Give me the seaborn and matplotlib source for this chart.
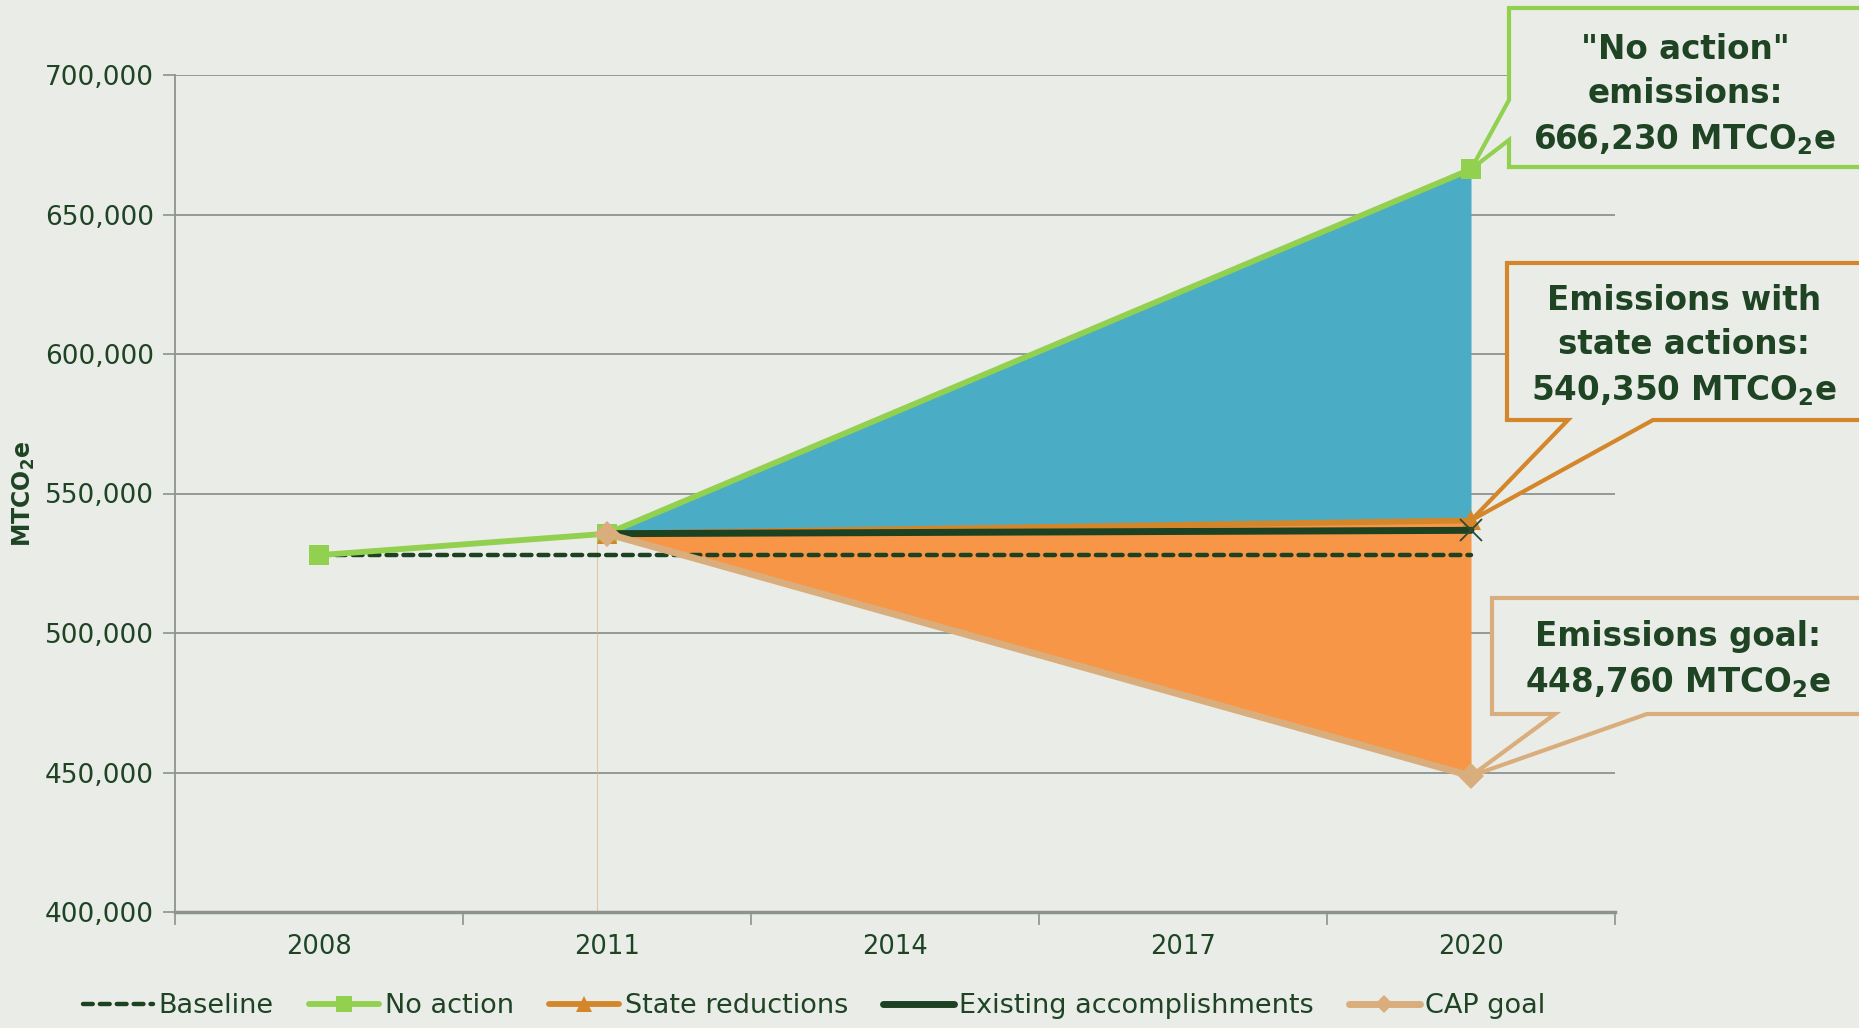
import numpy as np
import matplotlib
matplotlib.use("Agg")
import matplotlib.pyplot as plt
import seaborn as sns
from matplotlib.lines import Line2D
from matplotlib.patches import Polygon
from matplotlib.ticker import FuncFormatter

# data
years = [2008, 2011, 2020]
baseline = [527900, 527900, 527900]
no_action = [527900, 535600, 666230]
yrs_act = [2011, 2020]
state_red = [535600, 540350]
existing = [535600, 536800]
cap_goal = [535600, 448760]
tick_years = [2008, 2011, 2014, 2017, 2020]

bg = "#EAECE8"
txt = "#1E4424"
c_green = "#92D050"
c_orange = "#D4862A"
c_dark = "#1D4222"
c_tan = "#D9AE7C"
c_blue_fill = "#4BACC6"
c_orange_fill = "#F79646"

sns.set_theme(style="white")
plt.rcParams["font.family"] = ["DejaVu Sans"]
plt.rcParams["mathtext.fontset"] = "dejavusans"

W, H = 1859, 1028
fig = plt.figure(figsize=(W / 100, H / 100), dpi=100, facecolor=bg)
ax = fig.add_axes([175 / W, 1 - 912 / H, (1615 - 175) / W, (912 - 75) / H])
ax.set_facecolor(bg)

ax.set_xlim(2006.5, 2021.5)
ax.set_ylim(400000, 700000)

# shaded areas
ax.fill_between(yrs_act, no_action[1:], state_red, color=c_blue_fill, lw=0, zorder=1)
ax.fill_between(yrs_act, state_red, cap_goal, color=c_orange_fill, lw=0, zorder=1)
ax.vlines(2010.9, 400000, 535600, color=c_tan, lw=0.8, alpha=0.6, zorder=1)

sns.lineplot(x=years, y=baseline, ax=ax, color=c_dark, lw=3.2, linestyle=(0, (2.2, 1.6)),
             dash_capstyle="round", zorder=3)
sns.lineplot(x=years, y=no_action, ax=ax, color=c_green, lw=4.2, marker="s", markersize=15,
             markeredgewidth=0, zorder=4)
sns.lineplot(x=yrs_act, y=state_red, ax=ax, color=c_orange, lw=4.2, marker="^", markersize=15,
             markeredgewidth=0, zorder=5)
sns.lineplot(x=yrs_act, y=existing, ax=ax, color=c_dark, lw=5, marker="x", markersize=16,
             markeredgewidth=1.3, markeredgecolor="#2E4A33", markevery=[1], zorder=6)
sns.lineplot(x=yrs_act, y=cap_goal, ax=ax, color=c_tan, lw=5, marker="D", markersize=13,
             markeredgewidth=0, zorder=7)

# axes styling
ax.set_xticks([2006.5, 2009.5, 2012.5, 2015.5, 2018.5, 2021.5])
ax.set_xticklabels([])
ax.set_xticks(tick_years, minor=True)
ax.set_xticklabels([str(y) for y in tick_years], minor=True)
ax.tick_params(axis="x", which="major", direction="out", length=9, width=1.2, color="#8C948F", bottom=True)
ax.tick_params(axis="x", which="minor", length=0, pad=16, labelsize=18.5, labelcolor=txt)
ax.set_yticks(np.arange(400000, 700001, 50000))
ax.yaxis.set_major_formatter(FuncFormatter(lambda v, p: f"{v:,.0f}"))
ax.tick_params(axis="y", direction="out", length=9, width=1.2, color="#8C948F", left=True,
               labelsize=19, labelcolor=txt, pad=6)
ax.grid(axis="y", color="#8C948F", lw=1.3)
ax.grid(axis="x", visible=False)
for s in ["top", "right"]:
    ax.spines[s].set_visible(False)
ax.spines["left"].set_color("#8C948F")
ax.spines["left"].set_linewidth(1.3)
ax.spines["bottom"].set_color("#8C948F")
ax.spines["bottom"].set_linewidth(2.5)
ax.set_axisbelow(True)
ax.set_xlabel("")
ax.set_ylabel(r"MTCO$_\mathbf{2}$e", fontsize=17, fontweight="bold", color=txt, labelpad=6)

# legend
handles = [
    Line2D([], [], color=c_dark, lw=3.2, linestyle=(0, (2.2, 1.6)), dash_capstyle="round"),
    Line2D([], [], color=c_green, lw=4.2, marker="s", markersize=11, markeredgewidth=0),
    Line2D([], [], color=c_orange, lw=4.2, marker="^", markersize=12, markeredgewidth=0),
    Line2D([], [], color=c_dark, lw=5, solid_capstyle="round"),
    Line2D([], [], color=c_tan, lw=5, marker="D", markersize=9, markeredgewidth=0),
]
labels = ["Baseline", "No action", "State reductions", "Existing accomplishments", "CAP goal"]
fig.legend(handles, labels, loc="center", bbox_to_anchor=(814 / W, 1 - 1006 / H), ncol=5,
           frameon=False, fontsize=19.5, handlelength=2.6, handletextpad=0.2, columnspacing=1.3,
           labelcolor=txt)


# callouts
def fpx(x, y):
    return (x / W, 1 - y / H)


def tip(year, val):
    d = ax.transData.transform((year, val))
    return tuple(fig.transFigure.inverted().transform(d))


callouts = [
    ([(1509, 8), (1880, 8), (1880, 167), (1509, 167), (1509, 140), "T", (1509, 100)],
     (2020, no_action[-1]), c_green, (1685, 95),
     '"No action"\nemissions:\n666,230 MTCO$_\\mathbf{2}$e'),
    ([(1507, 263), (1880, 263), (1880, 420), (1653, 420), "T", (1568, 420), (1507, 420)],
     (2020, state_red[-1]), c_orange, (1684, 346),
     "Emissions with\nstate actions:\n540,350 MTCO$_\\mathbf{2}$e"),
    ([(1492, 598), (1880, 598), (1880, 714), (1647, 714), "T", (1555, 714), (1492, 714)],
     (2020, cap_goal[-1]), c_tan, (1678, 660),
     "Emissions goal:\n448,760 MTCO$_\\mathbf{2}$e"),
]
for verts, pt, col, tpos, label in callouts:
    pts = [tip(*pt) if v == "T" else fpx(*v) for v in verts]
    poly = Polygon(pts, closed=True, transform=fig.transFigure, fc=bg, ec=col, lw=3,
                   clip_on=False, zorder=10, joinstyle="miter")
    fig.patches.append(poly)
    fig.text(tpos[0] / W, 1 - tpos[1] / H, label, ha="center", va="center", fontsize=23.5,
             fontweight="bold", color=txt, linespacing=1.45, zorder=11)

fig.savefig("out.png", dpi=100, facecolor=bg)
